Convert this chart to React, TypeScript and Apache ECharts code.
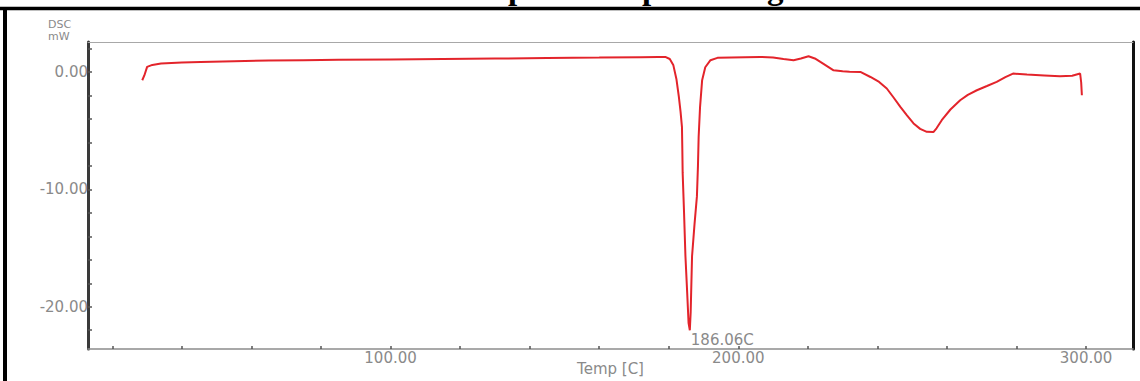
import React, { useEffect, useRef } from "react";
import * as echarts from "echarts";

// Temperature (°C) and DSC signal (mW)
const temps = [
  28.6, 29.2, 30.0, 31.5, 34.0, 40, 45.4, 55, 65, 75, 85, 100, 115, 130, 145, 160, 172, 177,
  179.0, 180.3, 181.3, 182.2, 182.9, 183.4, 183.8, 183.9, 184.0, 184.4, 184.8, 185.3, 185.7,
  186.06, 186.3, 186.7, 187.4, 188.1, 188.4, 188.6, 189.0, 189.6, 190.5, 192.0, 194.0,
  198, 202, 206.3, 210, 213, 215.9, 218, 220.2, 222, 223.6, 225.5, 227.4, 230, 232, 235.1,
  238.0, 240.5, 242.7, 244.7, 246.6, 248.5, 250.4, 252.3, 254.2, 256.1, 257.0, 258.5, 261,
  263.8, 266, 268.6, 271.5, 274.3, 276.8, 279.0, 283.0, 288, 292.5, 296, 298.3, 298.6, 298.8,
];
const dsc = [
  -0.71, -0.3, 0.43, 0.6, 0.71, 0.8, 0.85, 0.92, 0.97, 1.0, 1.03, 1.06, 1.1, 1.14, 1.18, 1.22, 1.26, 1.28,
  1.28, 1.1, 0.6, -0.6, -2.1, -3.4, -4.7, -6.5, -8.6, -12.0, -15.7, -18.8, -21.4,
  -22.0, -20.5, -15.7, -13.0, -10.6, -8.0, -5.5, -3.0, -0.7, 0.4, 1.0, 1.2,
  1.24, 1.26, 1.28, 1.22, 1.1, 1.0, 1.15, 1.34, 1.15, 0.85, 0.5, 0.14, 0.05, 0.02, 0.0,
  -0.43, -0.85, -1.41, -2.2, -2.98, -3.7, -4.39, -4.85, -5.1, -5.12, -4.8, -4.11, -3.2,
  -2.41, -1.95, -1.56, -1.2, -0.85, -0.45, -0.14, -0.22, -0.3, -0.37, -0.33, -0.14, -0.9, -1.98,
];

const peakTemp = 186.06;
const peakValue = -22.0;
const peakLabel = "186.06C";

const xTickValues = [20, 40, 60, 80, 100, 120, 140, 160, 180, 200, 220, 240, 260, 280, 300];
const xLabelValues = [100, 200, 300];
const yTickValues = [-22, -20, -18, -16, -14, -12, -10, -8, -6, -4, -2, 0, 2];
const yLabelValues = [-20, -10, 0];

const xTitle = "Temp [C]";
const yTitle = "DSC\nmW";
const pageTitle = "DSC spectra of pure drug";

export default function App() {
  const ref = useRef<HTMLDivElement>(null);

  useEffect(() => {
    if (!ref.current) return;
    const chart = echarts.init(ref.current, undefined, { renderer: "svg" });
    const data = temps.map((t, i) => [t, dsc[i]]);
    const labelFont = { fontFamily: "DejaVu Sans", fontSize: 15, color: "#8a8a8a" };

    chart.setOption({
      animation: false,
      backgroundColor: "#ffffff",
      grid: { left: 88, right: 7, top: 42, bottom: 32, containLabel: false, outerBoundsMode: "none" },
      xAxis: [
        {
          type: "value",
          position: "bottom",
          min: 13,
          max: 313.5,
          axisLine: { show: true, onZero: false, lineStyle: { color: "#8c8c8c", width: 1.5 } },
          axisTick: {
            show: true,
            inside: true,
            length: 3,
            customValues: xTickValues,
            lineStyle: { color: "#555", width: 1.5 },
          },
          axisLabel: {
            show: true,
            customValues: xLabelValues,
            margin: 1,
            formatter: (v: number) => v.toFixed(2),
            ...labelFont,
          },
          splitLine: { show: false },
          name: xTitle,
          nameLocation: "middle",
          nameGap: 12,
          nameMoveOverlap: false,
          nameTextStyle: { ...labelFont, verticalAlign: "top" },
        },
        {
          type: "value",
          position: "top",
          min: 13,
          max: 313.5,
          axisLine: { show: true, onZero: false, lineStyle: { color: "#a8a8a8", width: 1 } },
          axisTick: { show: false },
          axisLabel: { show: false },
          splitLine: { show: false },
        },
      ],
      yAxis: [
        {
          type: "value",
          position: "left",
          min: -23.6,
          max: 2.55,
          axisLine: { show: true, onZero: false, lineStyle: { color: "#3a3a3a", width: 3 } },
          axisTick: {
            show: true,
            inside: true,
            length: 4,
            customValues: yTickValues,
            lineStyle: { color: "#555", width: 1.5 },
          },
          axisLabel: {
            show: true,
            customValues: yLabelValues,
            margin: 0,
            formatter: (v: number) => v.toFixed(2),
            ...labelFont,
          },
          splitLine: { show: false },
        },
        {
          type: "value",
          position: "right",
          min: -23.6,
          max: 2.55,
          axisLine: { show: true, onZero: false, lineStyle: { color: "#111", width: 3 } },
          axisTick: { show: false },
          axisLabel: { show: false },
          splitLine: { show: false },
        },
      ],
      series: [
        {
          type: "line",
          xAxisIndex: 0,
          yAxisIndex: 0,
          data,
          showSymbol: false,
          symbol: "none",
          smooth: false,
          lineStyle: { color: "#e3242b", width: 2 },
          markPoint: {
            symbol: "circle",
            symbolSize: 0,
            data: [
              {
                coord: [peakTemp, peakValue],
                label: {
                  show: true,
                  formatter: peakLabel,
                  position: "right",
                  distance: 1,
                  offset: [0, 10],
                  ...labelFont,
                },
              },
            ],
          },
        },
      ],
      graphic: [
        {
          type: "text",
          x: 421,
          y: -12,
          style: {
            text: pageTitle,
            font: 'bold 33px "Liberation Serif"',
            fill: "#000",
            textAlign: "left",
            textVerticalAlign: "middle",
          },
        },
        {
          type: "line",
          shape: { x1: 0, y1: 8.5, x2: 1140, y2: 8.5 },
          style: { stroke: "#000", lineWidth: 3.5 },
        },
        {
          type: "line",
          shape: { x1: 5, y1: 7, x2: 5, y2: 381 },
          style: { stroke: "#000", lineWidth: 4 },
        },
        {
          type: "text",
          x: 48,
          y: 18,
          style: {
            text: yTitle,
            font: '11px "DejaVu Sans"',
            fill: "#8a8a8a",
            lineHeight: 12,
          },
        },
      ],
    });

    return () => chart.dispose();
  }, []);

  return (
    <div
      ref={ref}
      style={{ position: "fixed", left: 0, top: 0, width: 1140, height: 381, background: "#fff" }}
    />
  );
}
